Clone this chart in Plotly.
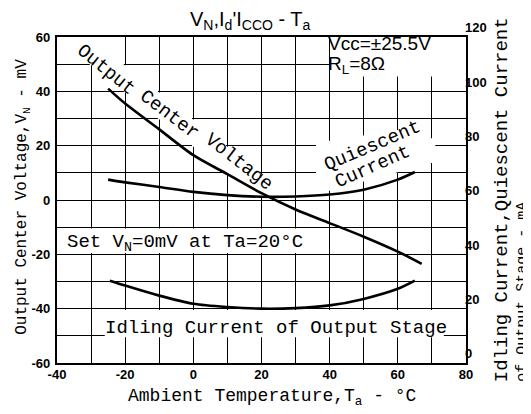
import plotly.graph_objects as go

# ---------------- data ----------------
ta_vn = [-25, -20, -10, 0, 10, 20, 30, 40, 50, 60, 67]
vn_mv = [41, 35.5, 26, 16.5, 9.5, 2.5, -3.5, -8.5, -13.5, -19, -23.5]

ta_q = [-25, -20, -10, 0, 10, 20, 30, 40, 50, 60, 65]
icco_ma = [67.5, 66.5, 64.8, 63, 61.8, 61.2, 61.3, 62, 63.8, 67.5, 70.3]

ta_id = [-24.5, -20, -10, 0, 10, 20, 30, 40, 50, 60, 65]
id_ma = [30.3, 28.5, 24.8, 21.8, 20.6, 20, 20.2, 21.2, 23.6, 27.3, 30.3]

x_tickvals = list(range(-40, 81, 10))
x_ticktext = ["-40", "", "-20", "", "0", "", "20", "", "40", "", "60", "", "80"]
yl_tickvals = list(range(-60, 61, 10))
yl_ticktext = ["-60", "", "-40", "", "-20", "", "0", "", "20", "", "40", "", "60"]
yr_tickvals = list(range(0, 121, 10))
yr_ticktext = ["0", "", "20", "", "40", "", "60", "", "80", "", "100", "", "120"]

MONO = "Liberation Mono, Courier New, monospace"
SANS = "Liberation Sans, Arial, sans-serif"
TICKF = dict(family=SANS, size=13, color="black", weight=700)
LINE = dict(color="black", width=2.6, shape="spline", smoothing=0.8)

fig = go.Figure()
fig.add_trace(go.Scatter(x=ta_vn, y=vn_mv, mode="lines", line=LINE, yaxis="y", showlegend=False))
fig.add_trace(go.Scatter(x=ta_q, y=icco_ma, mode="lines", line=LINE, yaxis="y2", showlegend=False))
fig.add_trace(go.Scatter(x=ta_id, y=id_ma, mode="lines", line=LINE, yaxis="y2", showlegend=False))

# white masks hiding grid behind the labels (drawn between grid and traces)
shapes = []
for k in range(5):
    shapes.append(dict(type="rect", xref="x", yref="y", layer="between",
                       x0=-30.4 + 10 * k, x1=-20.4 + 10 * k,
                       y0=49.6 - 10 * k, y1=(60 if k == 0 else 59.6 - 10 * k),
                       fillcolor="white", line=dict(width=0)))
shapes.append(dict(type="rect", xref="x", yref="y", layer="between", x0=19.6, x1=24, y0=1.5, y1=9.6,
                   fillcolor="white", line=dict(width=0)))
shapes.append(dict(type="path", xref="x", yref="y", layer="between",
                   path="M 36,2 L 71,14 L 71,21.5 L 66,27 L 36,21 Z",
                   fillcolor="white", line=dict(width=0)))
shapes.append(dict(type="rect", xref="x", yref="y", layer="between", x0=-39.7, x1=32, y0=-19.5, y1=-10.5,
                   fillcolor="white", line=dict(width=0)))
shapes.append(dict(type="rect", xref="x", yref="y", layer="between", x0=-26, x1=73.5, y0=-50.5, y1=-40.5,
                   fillcolor="white", line=dict(width=0)))
shapes.append(dict(type="rect", xref="x", yref="y", layer="between", x0=40.4, x1=80, y0=45.5, y1=60,
                   fillcolor="white", line=dict(width=0)))

ann = []
def lab(text, x, y, angle=0, size=19, font=MONO, xanchor="center", yanchor="middle", xref="x", yref="y"):
    ann.append(dict(text=text, x=x, y=y, xref=xref, yref=yref, textangle=angle, showarrow=False,
                    borderpad=0, xanchor=xanchor, yanchor=yanchor,
                    font=dict(family=font, size=size, color="black")))

lab("Output", -25.6, 48, 39)
lab("Center", -7, 31.3, 37)
lab("Voltage", 13.3, 14, 38)
lab("Quiescent", 52.6, 20, -23)
lab("Current", 52.6, 12, -24)
lab("Set V<sub>N</sub>=0mV at Ta=20°C", -37.5, -16, xanchor="left")
lab("Idling Current of Output Stage", 24.3, -47)
lab("Vcc=±25.5V", 39.2, 57.6, size=19, font=SANS, xanchor="left")
lab("R<sub>L</sub>=8Ω", 39.2, 49.8, size=19, font=SANS, xanchor="left")
lab("V<sub>N</sub>,I<sub>d</sub>'I<sub>CCO</sub> - T<sub>a</sub>", 0.474, 1.05, size=20, font=SANS,
    xref="paper", yref="paper")
lab("Output Center Voltage,V<sub>N</sub> - mV", -0.083, 0.51, -90, size=16, xref="paper", yref="paper")
lab("Ambient Temperature,T<sub>a</sub> - °C", 0.528, -0.105, size=18, xref="paper", yref="paper")
lab("Idling Current,Quiescent Current", 1.09, -0.061, -90, size=19, yanchor="bottom",
    xref="paper", yref="paper")
lab("of Output Stage - mA", 1.139, -0.061, -90, size=15, yanchor="bottom", xref="paper", yref="paper")

# the page body adds an 8px offset, so the figure is 8px smaller and margins shifted
fig.update_layout(
    width=523, height=406,
    margin=dict(l=49, r=65, t=25, b=51),
    paper_bgcolor="white", plot_bgcolor="white",
    shapes=shapes, annotations=ann,
    xaxis=dict(range=[-40, 80], tickmode="array", tickvals=x_tickvals, ticktext=x_ticktext,
               showgrid=True, gridcolor="black", gridwidth=1.4, zeroline=False,
               showline=True, linecolor="black", linewidth=2.2, mirror=True,
               ticks="", tickfont=TICKF, ticklabelstandoff=-2),
    yaxis=dict(range=[-60, 60], tickmode="array", tickvals=yl_tickvals, ticktext=yl_ticktext,
               showgrid=True, gridcolor="black", gridwidth=1.4, zeroline=False,
               showline=True, linecolor="black", linewidth=2.2, mirror=True,
               ticks="", tickfont=TICKF, ticklabelstandoff=2),
    yaxis2=dict(range=[0, 120], overlaying="y", side="right", tickmode="array",
                tickvals=yr_tickvals, ticktext=yr_ticktext, showgrid=False, zeroline=False,
                showline=False, ticks="", tickfont=TICKF, ticklabelstandoff=-2,
                ticklabelposition="outside top"),
)

fig.write_html("out.html")
